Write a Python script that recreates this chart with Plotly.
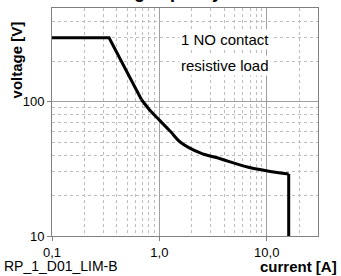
import plotly.graph_objects as go

current = [0.1, 0.34, 0.68, 0.82, 1.0, 1.27, 1.57, 2.4, 3.7, 6.6, 13.4, 16, 16]
voltage = [300, 300, 104, 86, 73, 60, 50, 41.6, 37.6, 32.7, 29.5, 29, 10]

x_ticks = [0.1, 1, 10]
x_ticktext = ["0,1", "1,0", "10,0"]
y_ticks = [10, 100]
y_ticktext = ["10", "100"]
x_minor = [0.2, 0.3, 0.4, 0.5, 0.6, 0.7, 0.8, 0.9, 2, 3, 4, 5, 6, 7, 8, 9, 20]
y_minor = [20, 30, 40, 50, 60, 70, 80, 90, 200, 300, 400]

FONT = "Arial, Liberation Sans, sans-serif"
LINE = dict(color="black", width=3)

fig = go.Figure()
# straight part (flat + linear descent), curved part, vertical cut-off
fig.add_trace(go.Scatter(x=current[:3], y=voltage[:3], mode="lines",
                         line=LINE, showlegend=False))
fig.add_trace(go.Scatter(x=current[2:12], y=voltage[2:12], mode="lines",
                         line=dict(LINE, shape="spline", smoothing=1.0), showlegend=False))
fig.add_trace(go.Scatter(x=current[11:], y=voltage[11:], mode="lines",
                         line=LINE, showlegend=False))

axis_common = dict(
    showline=True, linecolor="#808080", linewidth=1, mirror=True,
    ticks="outside", ticklen=4, tickcolor="#808080",
    gridcolor="#a0a0a0", gridwidth=1,
    tickfont=dict(family=FONT, size=13, color="black"),
    zeroline=False,
)
fig.update_xaxes(type="log", range=[-1, 1.477], tickvals=x_ticks, ticktext=x_ticktext,
                 minor=dict(tickvals=x_minor, showgrid=True, gridcolor="#bdbdbd",
                            griddash="dot", ticks=""),
                 **axis_common)
fig.update_yaxes(type="log", range=[1, 2.699], tickvals=y_ticks, ticktext=y_ticktext,
                 minor=dict(tickvals=y_minor, showgrid=True, gridcolor="#bdbdbd",
                            griddash="dot", ticks=""),
                 **axis_common)

ann = dict(xref="paper", yref="paper", showarrow=False)
fig.add_annotation(text="1 NO contact", x=0.650, y=0.860, xanchor="center", yanchor="middle",
                   bgcolor="white", font=dict(family=FONT, size=15, color="black"), **ann)
fig.add_annotation(text="resistive load", x=0.650, y=0.746, xanchor="center", yanchor="middle",
                   bgcolor="white", font=dict(family=FONT, size=15, color="black"), **ann)
fig.add_annotation(text="<b>voltage [V]</b>", x=-0.130, y=0.772, textangle=-90,
                   xanchor="center", yanchor="middle",
                   font=dict(family=FONT, size=15, color="black"), **ann)
fig.add_annotation(text="<b>current [A]</b>", x=1.075, y=-0.132, borderpad=0,
                   xanchor="right", yanchor="middle",
                   font=dict(family=FONT, size=15, color="black"), **ann)
fig.add_annotation(text="RP_1_D01_LIM-B", x=-0.184, y=-0.132, borderpad=0,
                   xanchor="left", yanchor="middle",
                   font=dict(family=FONT, size=14, color="black"), **ann)
fig.add_annotation(text="<b>Breaking capacity</b>", x=0.35, y=1.0,
                   xanchor="center", yanchor="bottom", yshift=4,
                   font=dict(family=FONT, size=18, color="black"), **ann)

fig.update_layout(width=341, height=276, margin=dict(l=52, r=23, t=8, b=40),
                  paper_bgcolor="white", plot_bgcolor="white")
fig.write_html("out.html", config={"displayModeBar": False},
               post_script="document.body.style.margin='0';document.body.style.padding='0';")
